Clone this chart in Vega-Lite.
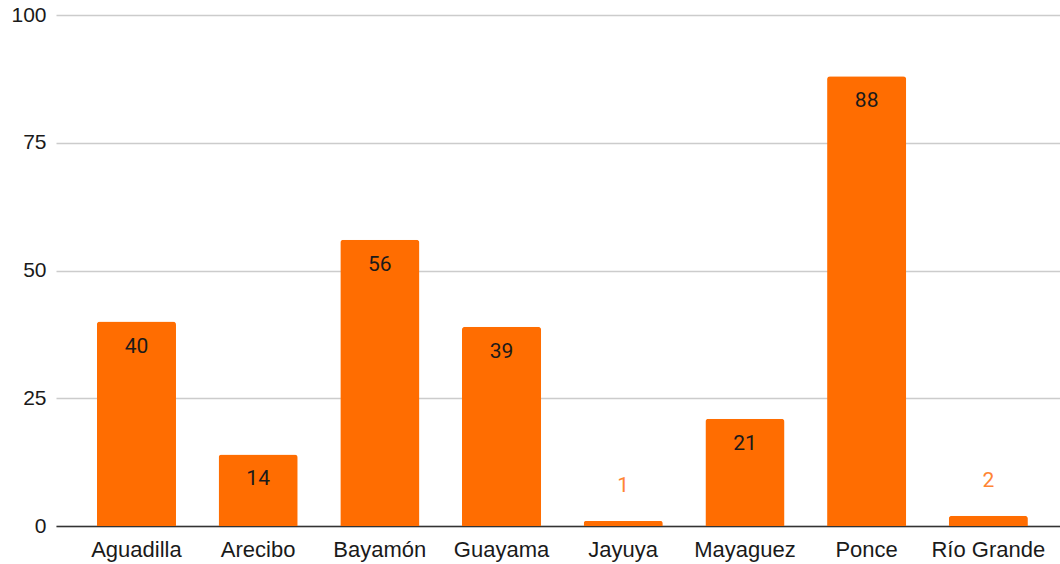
{
  "$schema": "https://vega.github.io/schema/vega-lite/v6.json",
  "width": 1004,
  "height": 511,
  "autosize": "none",
  "padding": {"left": 56, "top": 15, "right": 0, "bottom": 38},
  "background": "white",
  "config": {"view": {"stroke": null}},
  "data": {"values": [
    {"region": "Aguadilla", "value": 40},
    {"region": "Arecibo", "value": 14},
    {"region": "Bayamón", "value": 56},
    {"region": "Guayama", "value": 39},
    {"region": "Jayuya", "value": 1},
    {"region": "Mayaguez", "value": 21},
    {"region": "Ponce", "value": 88},
    {"region": "Río Grande", "value": 2}
  ]},
  "encoding": {
    "x": {"field": "region", "type": "nominal", "sort": null,
      "scale": {"paddingInner": 0.35, "paddingOuter": 0.3, "align": 0.56},
      "axis": {"title": null, "labelAngle": 0, "labelFont": "Liberation Sans", "labelFontSize": 22, "labelColor": "#1a1a1a", "labelPadding": 13, "ticks": false, "domainColor": "#333333", "domainWidth": 1.3, "grid": false}},
    "y": {"field": "value", "type": "quantitative",
      "scale": {"domain": [0, 100], "nice": false},
      "axis": {"title": null, "values": [0, 25, 50, 75, 100], "labelFont": "Liberation Sans", "labelFontSize": 21, "labelColor": "#1a1a1a", "labelPadding": 10, "ticks": false, "domain": false, "gridColor": "#cccccc", "gridWidth": 1.5}}
  },
  "layer": [
    {"mark": {"type": "bar", "color": "#ff6d01", "cornerRadiusTopLeft": 3, "cornerRadiusTopRight": 3}},
    {"transform": [{"filter": "datum.value >= 10"}],
     "mark": {"type": "text", "baseline": "middle", "dy": 25, "font": "Roboto", "fontSize": 21, "color": "#1a1a1a"},
     "encoding": {"text": {"field": "value", "type": "quantitative"}}},
    {"transform": [{"filter": "datum.value < 10"}],
     "mark": {"type": "text", "baseline": "middle", "dy": -35, "font": "Roboto", "fontSize": 21, "color": "#ff8534"},
     "encoding": {"text": {"field": "value", "type": "quantitative"}}}
  ]
}
